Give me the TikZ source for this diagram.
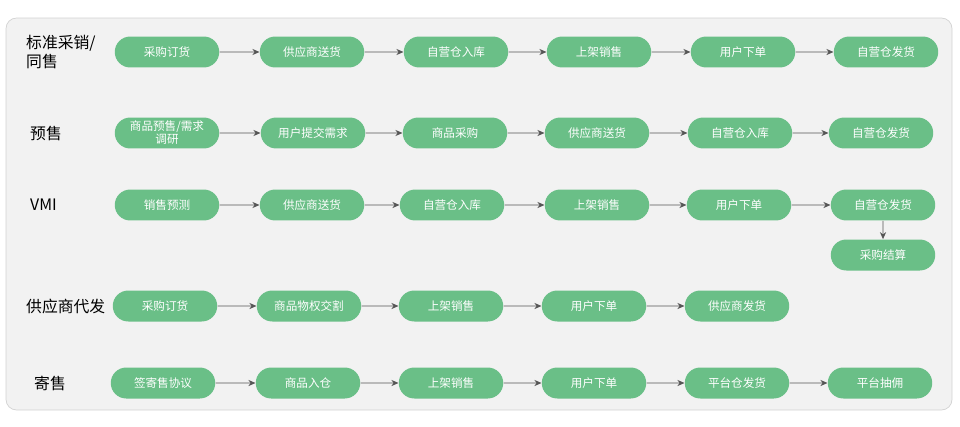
\documentclass[tikz,border=0pt]{standalone}
\usepackage{fontspec}
\setmainfont{Noto Sans CJK SC}
\usepackage{xcolor}
\usetikzlibrary{arrows.meta}
\usetikzlibrary{shapes.misc}
\definecolor{pillgreen}{HTML}{6ABF87}
\definecolor{panelgray}{HTML}{F2F2F2}
\definecolor{panelline}{HTML}{D2D2D2}
\definecolor{flowgray}{HTML}{555555}
\tikzset{
  stage/.style={rounded rectangle,fill=pillgreen,text=white,minimum width=2.16cm,
    minimum height=0.62cm,inner sep=1pt,font=\fontsize{6.6}{7.4}\selectfont,align=center},
  rowname/.style={anchor=west,font=\fontsize{9}{11}\selectfont,align=left},
  flow/.style={-{Stealth[length=4pt,width=3.5pt]},flowgray,line width=0.5pt}
}
\begin{document}
\begin{tikzpicture}[x=0.02cm,y=-0.02cm]
  \useasboundingbox (0,0) rectangle (960,426);
  \draw[panelline,fill=panelgray,rounded corners=6pt] (6,18) rectangle (952,410);

  \node (l1) [rowname] at (20,52) {标准采销/\\同售};
  \node (l2) [rowname] at (24,133) {预售};
  \node (l3) [rowname] at (24,205) {VMI};
  \node (l4) [rowname] at (20,306) {供应商代发};
  \node (l5) [rowname] at (28,383) {寄售};

  % row 1
  \node (a1) [stage] at (167,52) {采购订货};
  \node (a2) [stage] at (312,52) {供应商送货};
  \node (a3) [stage] at (456,52) {自营仓入库};
  \node (a4) [stage] at (599,52) {上架销售};
  \node (a5) [stage] at (743,52) {用户下单};
  \node (a6) [stage] at (886,52) {自营仓发货};
  % row 2
  \node (b1) [stage] at (167,133) {商品预售/需求\\调研};
  \node (b2) [stage] at (313,133) {用户提交需求};
  \node (b3) [stage] at (455,133) {商品采购};
  \node (b4) [stage] at (597,133) {供应商送货};
  \node (b5) [stage] at (740,133) {自营仓入库};
  \node (b6) [stage] at (881,133) {自营仓发货};
  % row 3
  \node (c1) [stage] at (167,205) {销售预测};
  \node (c2) [stage] at (312,205) {供应商送货};
  \node (c3) [stage] at (452,205) {自营仓入库};
  \node (c4) [stage] at (597,205) {上架销售};
  \node (c5) [stage] at (739,205) {用户下单};
  \node (c6) [stage] at (883,205) {自营仓发货};
  \node (c7) [stage] at (883,255) {采购结算};
  % row 4
  \node (d1) [stage] at (165,306) {采购订货};
  \node (d2) [stage] at (309,306) {商品物权交割};
  \node (d3) [stage] at (451,306) {上架销售};
  \node (d4) [stage] at (594,306) {用户下单};
  \node (d5) [stage] at (737,306) {供应商发货};
  % row 5
  \node (e1) [stage] at (163,383) {签寄售协议};
  \node (e2) [stage] at (308,383) {商品入仓};
  \node (e3) [stage] at (451,383) {上架销售};
  \node (e4) [stage] at (594,383) {用户下单};
  \node (e5) [stage] at (737,383) {平台仓发货};
  \node (e6) [stage] at (880,383) {平台抽佣};

  \foreach \r in {a,b,c,e}
    \foreach \i/\j in {1/2,2/3,3/4,4/5,5/6}
      \draw[flow] (\r\i) -- (\r\j);
  \foreach \i/\j in {1/2,2/3,3/4,4/5}
    \draw[flow] (d\i) -- (d\j);
  \draw[flow] (c6) -- (c7);
\end{tikzpicture}
\end{document}
